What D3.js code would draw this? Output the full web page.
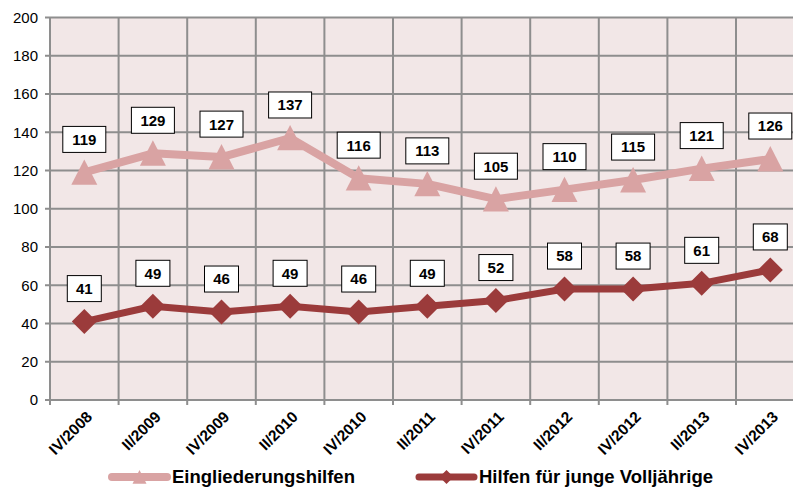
<!DOCTYPE html>
<html>
<head>
<meta charset="utf-8">
<script src="https://cdn.jsdelivr.net/npm/d3@7"></script>
<style>
  body { margin: 0; background: #fff; }
  svg { display: block; font-family: "Liberation Sans", Arial, sans-serif; }
</style>
</head>
<body>
<svg width="793" height="488"></svg>
<script>
// chart data
const quarters = ["IV/2008", "II/2009", "IV/2009", "II/2010", "IV/2010", "II/2011",
                  "IV/2011", "II/2012", "IV/2012", "II/2013", "IV/2013"];
const eingliederung = [119, 129, 127, 137, 116, 113, 105, 110, 115, 121, 126];
const volljaehrige = [41, 49, 46, 49, 46, 49, 52, 58, 58, 61, 68];
const yTicks = [0, 20, 40, 60, 80, 100, 120, 140, 160, 180, 200];

// marker shapes
function triangle(s) {
  return "M0," + (-s) + "L" + s + "," + (s * 0.95) + "L" + (-s) + "," + (s * 0.95) + "Z";
}
function diamond(s) {
  return "M0," + (-s) + "L" + s + ",0L0," + s + "L" + (-s) + ",0Z";
}

const series = [
  { name: "Eingliederungshilfen", values: eingliederung, color: "#D9A3A3", marker: triangle, size: 13, legendSize: 7, width: 8 },
  { name: "Hilfen für junge Volljährige", values: volljaehrige, color: "#9B3B3B", marker: diamond, size: 12.5, legendSize: 7, width: 7 }
];

var svg = d3.select("svg");
var margin = {top: 17.5, left: 50};
var plotW = 754.6, plotH = 382.5;

var x = d3.scaleBand().domain(quarters).range([margin.left, margin.left + plotW]);
var y = d3.scaleLinear().domain([0, 200]).range([margin.top + plotH, margin.top]);

// background
svg.append("rect")
  .attr("x", margin.left).attr("y", margin.top)
  .attr("width", plotW).attr("height", plotH)
  .attr("fill", "#F2E7E7");

var gridColor = "#8E8E8E";

// horizontal grid
svg.append("g").selectAll("line")
  .data(yTicks)
  .enter().append("line")
  .attr("x1", margin.left - 5).attr("x2", margin.left + plotW)
  .attr("y1", d => y(d)).attr("y2", d => y(d))
  .attr("stroke", gridColor).attr("stroke-width", 2);

// vertical grid (between categories)
var xEdges = quarters.map(q => x(q)).concat([margin.left + plotW]);
svg.append("g").selectAll("line")
  .data(xEdges)
  .enter().append("line")
  .attr("x1", d => d).attr("x2", d => d)
  .attr("y1", margin.top).attr("y2", y(0) + 5)
  .attr("stroke", gridColor).attr("stroke-width", 2);

// y labels
svg.append("g").selectAll("text")
  .data(yTicks)
  .enter().append("text")
  .attr("x", 38).attr("y", d => y(d))
  .attr("dy", "0.35em")
  .attr("text-anchor", "end")
  .attr("font-size", 15)
  .attr("fill", "#000")
  .text(d => d);

// x labels
svg.append("g").selectAll("text")
  .data(quarters)
  .enter().append("text")
  .attr("transform", d => "translate(" + (x(d) + x.bandwidth() / 2 + 5) + "," + (y(0) + 14) + ") rotate(-45)")
  .attr("text-anchor", "end")
  .attr("dy", "0.35em")
  .attr("font-size", 15.5)
  .attr("font-weight", "bold")
  .text(d => d);

var cx = (d, i) => x(quarters[i]) + x.bandwidth() / 2;

var line = d3.line()
  .x((d, i) => cx(d, i))
  .y(d => y(d));

series.forEach(function(s) {
  svg.append("path")
    .datum(s.values)
    .attr("d", line)
    .attr("fill", "none")
    .attr("stroke", s.color)
    .attr("stroke-width", s.width)
    .attr("stroke-linejoin", "round");

  svg.append("g").selectAll("path")
    .data(s.values)
    .enter().append("path")
    .attr("d", s.marker(s.size))
    .attr("transform", (d, i) => "translate(" + cx(d, i) + "," + y(d) + ")")
    .attr("fill", s.color);
});

// data labels
series.forEach(function(s) {
  var g = svg.append("g").selectAll("g")
    .data(s.values)
    .enter().append("g")
    .attr("transform", (d, i) => "translate(" + cx(d, i) + "," + (y(d) - 33) + ")");
  g.append("rect")
    .attr("x", d => String(d).length > 2 ? -21.5 : -17)
    .attr("width", d => String(d).length > 2 ? 43 : 34)
    .attr("y", -13).attr("height", 26)
    .attr("fill", "#fff")
    .attr("stroke", "#000").attr("stroke-width", 1);
  g.append("text")
    .attr("text-anchor", "middle")
    .attr("dy", "0.36em")
    .attr("font-size", 15)
    .attr("font-weight", "bold")
    .text(d => d);
});

// legend
var legendX = [112, 419];
series.forEach(function(s, i) {
  var lg = svg.append("g").attr("transform", "translate(" + legendX[i] + ",477)");
  lg.append("line")
    .attr("x1", 0).attr("x2", 55)
    .attr("stroke", s.color).attr("stroke-width", s.width)
    .attr("stroke-linecap", "round");
  lg.append("path")
    .attr("d", s.marker(s.legendSize))
    .attr("transform", "translate(27.5,0)")
    .attr("fill", s.color);
  lg.append("text")
    .attr("x", 60).attr("dy", "0.35em")
    .attr("font-size", 18.5)
    .attr("font-weight", "bold")
    .text(s.name);
});
</script>
</body>
</html>
